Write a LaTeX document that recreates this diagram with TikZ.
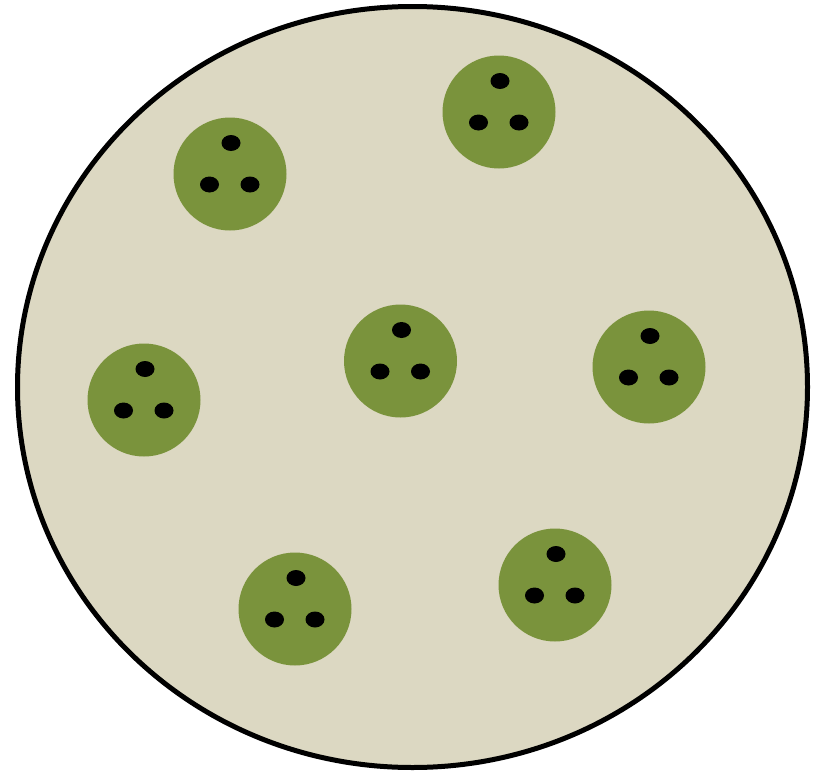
\documentclass[tikz,border=0pt]{standalone}
\usetikzlibrary{shapes.geometric}
\definecolor{dishcolor}{RGB}{220,216,194}
\definecolor{cellcolor}{RGB}{122,147,60}
\tikzset{
  dish/.style  = {draw=black, line width=5pt, fill=dishcolor},
  cell/.style  = {circle, fill=cellcolor, minimum size=113pt, inner sep=0pt},
  dot/.style   = {ellipse, fill=black, minimum width=19pt, minimum height=16pt, inner sep=0pt},
}
\begin{document}
\begin{tikzpicture}[x=1pt, y=-1pt]
  \useasboundingbox (0,0) rectangle (819,771);
  \draw[dish] (412.5,387) ellipse [x radius=395, y radius=380.5];
  % cells with three dots each
  \foreach \name/\cx/\cy in {ca/230/174, cb/499/112, cc/144/400, cd/400.5/361,
                             ce/649/367, cf/295/609, cg/555/585} {
    \node[cell] (\name) at (\cx,\cy) {};
    \path (\name.center) ++(1,-31) node[dot] (\name-t) {};
    \path (\name.center) ++(-20.5,10.5) node[dot] (\name-l) {};
    \path (\name.center) ++(20,10.5) node[dot] (\name-r) {};
  }
\end{tikzpicture}
\end{document}
